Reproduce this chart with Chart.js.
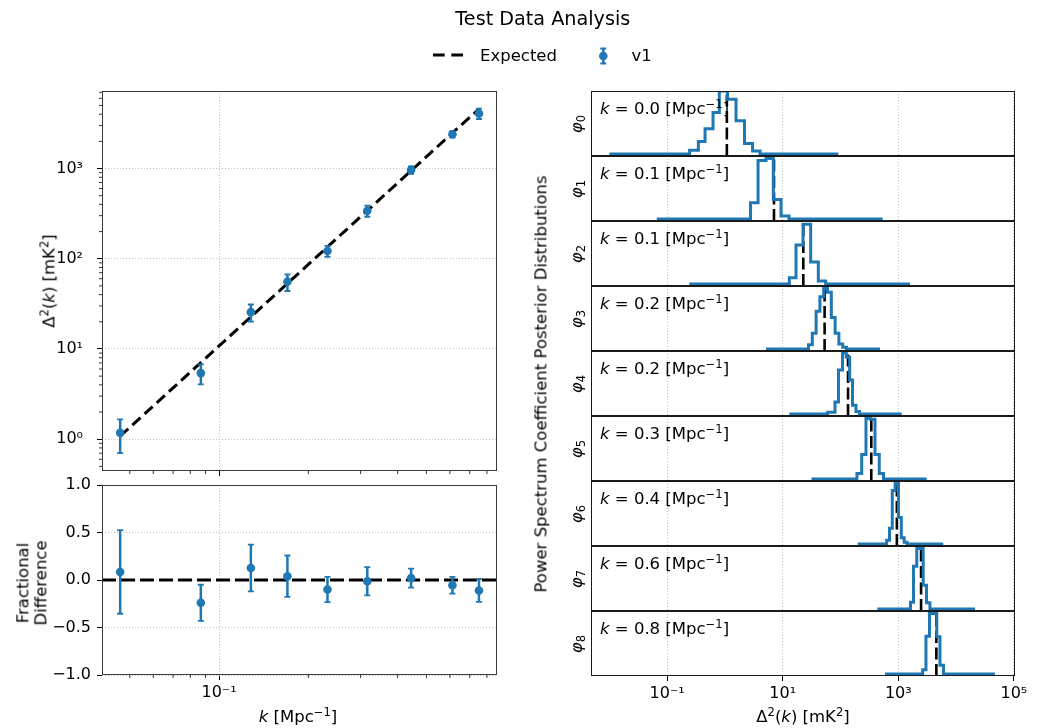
<!DOCTYPE html>
<html><head><meta charset="utf-8">
<script src="https://cdn.jsdelivr.net/npm/chart.js@4/dist/chart.umd.min.js"></script>
<style>
html,body{margin:0;padding:0;background:#fff;}
#wrap{position:relative;width:1041px;height:728px;overflow:hidden;font-family:"DejaVu Sans",sans-serif;color:#000;}
#wrap canvas{position:absolute;left:0;top:0;}
.t{position:absolute;white-space:nowrap;line-height:1.164;font-family:"DejaVu Sans",sans-serif;color:#000;}
.sp{font-size:0.7em;position:relative;top:-0.5em;line-height:0;}
.sb{font-size:0.7em;position:relative;top:0.3em;line-height:0;}
</style></head><body><div id="wrap"></div>
<script>
// ---------------- data ----------------
const kValues       = [0.0464, 0.0868, 0.128, 0.170, 0.232, 0.316, 0.444, 0.612, 0.752];
const expectedPower = [1.08, 7.06, 22.7, 53.1, 135, 341, 945, 2480, 4560];
const measuredPower = [1.18, 5.40, 25.6, 55.5, 122, 340, 965, 2400, 4080];
const measuredError = [0.48, 1.35, 5.5, 11.6, 17, 48, 90, 200, 540];
const fracDiff      = [0.085, -0.24, 0.127, 0.04, -0.10, -0.013, 0.02, -0.056, -0.11];
const fracError     = [0.44, 0.19, 0.246, 0.218, 0.133, 0.148, 0.10, 0.088, 0.121];

const leftXLimits   = [0.0403, 0.865];
const powerYLimits  = [0.444, 7230];
const fracYLimits   = [-1, 1];
const histXLimits   = [0.00481, 104700];

const powerYMajor = [1, 10, 100, 1000];
const powerYMinor = [0.5,0.6,0.7,0.8,0.9,2,3,4,5,6,7,8,9,20,30,40,50,60,70,80,90,200,300,400,500,600,700,800,900,2000,3000,4000,5000,6000,7000];
const kMajor = [0.1];
const kMinor = [0.05,0.06,0.07,0.08,0.09,0.2,0.3,0.4,0.5,0.6,0.7,0.8];
const fracTicks = [-1, -0.5, 0, 0.5, 1];
const histXMajor = [0.1, 10, 1000, 100000];

// histogram outlines: baseline range, bin edges (log10 of Δ²) and relative bin heights
const histRangeLog10 = [
  [-2.00, 1.962], [-1.180, 2.730], [-0.616, 3.202], [0.711, 2.683], [1.114, 3.059],
  [1.498, 3.491], [2.298, 3.779], [2.637, 4.327], [2.770, 4.673]
];
const histEdgesLog10 = [
  [-0.612,-0.460,-0.344,-0.206,-0.097,0.045,0.192,0.339,0.478,0.607],
  [0.443,0.573,0.711,0.837,0.971,1.109],
  [1.114,1.230,1.351,1.484,1.616,1.744],
  [1.446,1.512,1.578,1.644,1.709,1.775,1.841,1.907,1.972,2.038,2.104],
  [1.779,1.905,1.965,2.035,2.100,2.159,2.208,2.268,2.329],
  [2.285,2.367,2.441,2.519,2.597,2.671,2.744],
  [2.799,2.848,2.896,2.946,3.003,3.052,3.102,3.151],
  [3.211,3.263,3.320,3.375,3.431,3.488,3.548],
  [3.422,3.479,3.540,3.604,3.666,3.721,3.782]
];
const histHeights = [
  [0.06,0.2,0.4,0.66,1.0,0.87,0.53,0.17,0.05],
  [0.26,0.93,0.96,0.31,0.05],
  [0.1,0.62,0.95,0.35,0.05],
  [0.07,0.25,0.6,0.83,0.97,0.9,0.5,0.25,0.08,0.03],
  [0.03,0.19,0.7,0.97,0.9,0.54,0.14,0.04],
  [0.09,0.39,0.96,0.95,0.39,0.09],
  [0.06,0.25,0.85,0.98,0.42,0.1,0.03],
  [0.11,0.68,0.97,0.96,0.38,0.1],
  [0.07,0.6,0.96,0.96,0.59,0.14]
];
const histYLimits = [-0.03, 1.0];

// ---------------- setup ----------------
const W = 1041, H = 728;
const BLUE = '#1f77b4';
const FONT = '"DejaVu Sans", sans-serif';
const wrap = document.getElementById('wrap');
Chart.defaults.font.family = FONT;
Chart.defaults.font.size = 16;
Chart.defaults.color = '#000';

const SUP = {'-':'⁻','0':'⁰','1':'¹','2':'²','3':'³','4':'⁴','5':'⁵','6':'⁶','7':'⁷','8':'⁸','9':'⁹'};
function pow10Label(v){
  const e = Math.round(Math.log10(v));
  return '10' + String(e).split('').map(c => SUP[c]).join('');
}
function makeCanvas(){
  const c = document.createElement('canvas');
  c.width = W; c.height = H;
  wrap.appendChild(c);
  return c;
}
// axis sizes reserved (so tick labels are not clipped), padding fills the rest
const Y_AXIS_W = 100, X_AXIS_H = 45;
function pad(box, yW, xH){ return {left: box.l - yW, top: box.t, right: W - box.r, bottom: H - box.b - xH}; }

const gridBase = {color:'#b0b0b0', lineWidth:0.8, drawTicks:true, tickLength:5, tickColor:'#000', tickWidth:1};
const borderBase = {display:false, dash:[1,2]};

function framePlugin(color){
  return {id:'frame', afterDraw(chart){
    const a = chart.chartArea, ctx = chart.ctx;
    ctx.save();
    ctx.strokeStyle = color || '#1a1a1a'; ctx.lineWidth = 1;
    const l = Math.round(a.left)+0.5, t = Math.round(a.top)+0.5, r = Math.round(a.right)-0.5, b = Math.round(a.bottom)-0.5;
    ctx.strokeRect(l, t, r - l, b - t);
    ctx.restore();
  }};
}
function minorPlugin(xMinor, yMinor){
  return {id:'minorTicks', afterDraw(chart){
    const a = chart.chartArea, ctx = chart.ctx;
    ctx.save(); ctx.strokeStyle = '#000'; ctx.lineWidth = 0.8;
    ctx.beginPath();
    (xMinor||[]).forEach(v => {
      const px = chart.scales.x.getPixelForValue(v);
      ctx.moveTo(px, a.bottom); ctx.lineTo(px, a.bottom + 3);
    });
    (yMinor||[]).forEach(v => {
      const py = chart.scales.y.getPixelForValue(v);
      ctx.moveTo(a.left, py); ctx.lineTo(a.left - 3, py);
    });
    ctx.stroke(); ctx.restore();
  }};
}
function errorBarPlugin(xs, ys, errs, afterIndex){
  return {id:'errorBars', afterDatasetDraw(chart, args){
    if (args.index !== afterIndex) return;
    const sx = chart.scales.x, sy = chart.scales.y, ctx = chart.ctx;
    ctx.save(); ctx.strokeStyle = BLUE; ctx.lineCap = 'butt';
    xs.forEach((xv, i) => {
      const px = sx.getPixelForValue(xv);
      const y1 = sy.getPixelForValue(ys[i] - errs[i]);
      const y2 = sy.getPixelForValue(ys[i] + errs[i]);
      ctx.lineWidth = 2.5;
      ctx.beginPath(); ctx.moveTo(px, y1); ctx.lineTo(px, y2); ctx.stroke();
      ctx.lineWidth = 1.8;
      ctx.beginPath();
      ctx.moveTo(px - 3, y1); ctx.lineTo(px + 3, y1);
      ctx.moveTo(px - 3, y2); ctx.lineTo(px + 3, y2);
      ctx.stroke();
    });
    ctx.restore();
  }};
}
const legendPlugin = {id:'legendDraw', afterDraw(chart){
  const ctx = chart.ctx;
  ctx.save();
  ctx.strokeStyle = '#000'; ctx.lineWidth = 3; ctx.setLineDash([11.7, 6.6]);
  ctx.beginPath(); ctx.moveTo(433, 55); ctx.lineTo(463.5, 55); ctx.stroke();
  ctx.setLineDash([]);
  ctx.strokeStyle = BLUE; ctx.lineWidth = 2.5;
  ctx.beginPath(); ctx.moveTo(603.3, 48.5); ctx.lineTo(603.3, 63.5); ctx.stroke();
  ctx.lineWidth = 1.8;
  ctx.beginPath(); ctx.moveTo(600.3, 48.5); ctx.lineTo(606.3, 48.5); ctx.moveTo(600.3, 63.5); ctx.lineTo(606.3, 63.5); ctx.stroke();
  ctx.fillStyle = BLUE; ctx.beginPath(); ctx.arc(603.3, 56, 4.3, 0, Math.PI*2); ctx.fill();
  ctx.restore();
}};

// ---------------- left top: power spectrum ----------------
const ltBox = {l:102, t:91, r:497, b:471};
new Chart(makeCanvas(), {
  type:'line',
  data:{datasets:[
    {label:'v1', data:kValues.map((k,i)=>({x:k, y:measuredPower[i]})), showLine:false,
     pointRadius:4.3, pointBorderWidth:0, backgroundColor:BLUE, borderColor:BLUE},
    {label:'Expected', data:kValues.map((k,i)=>({x:k, y:expectedPower[i]})), borderColor:'#000',
     borderWidth:3, borderDash:[11,5.5], pointRadius:0, tension:0, fill:false}
  ]},
  options:{
    responsive:false, animation:false, events:[],
    layout:{padding:pad(ltBox, Y_AXIS_W, 0)},
    plugins:{legend:{display:false}, tooltip:{enabled:false}},
    scales:{
      x:{type:'logarithmic', min:leftXLimits[0], max:leftXLimits[1],
         afterFit(s){ s.height = 0; }, afterBuildTicks(s){ s.ticks = kMajor.map(v=>({value:v})); },
         ticks:{display:false}, grid:{...gridBase}, border:{...borderBase}},
      y:{type:'logarithmic', min:powerYLimits[0], max:powerYLimits[1],
         afterFit(s){ s.width = Y_AXIS_W; }, afterBuildTicks(s){ s.ticks = powerYMajor.map(v=>({value:v})); },
         ticks:{callback:(v)=>pow10Label(v), padding:14, autoSkip:false}, grid:{...gridBase}, border:{...borderBase}}
    }
  },
  plugins:[errorBarPlugin(kValues, measuredPower, measuredError, 1), minorPlugin(kMinor, powerYMinor), framePlugin('#3a3a3a'), legendPlugin]
});

// ---------------- left bottom: fractional difference ----------------
const lbBox = {l:102, t:485, r:497, b:675};
new Chart(makeCanvas(), {
  type:'line',
  data:{datasets:[
    {label:'v1', data:kValues.map((k,i)=>({x:k, y:fracDiff[i]})), showLine:false,
     pointRadius:4.3, pointBorderWidth:0, backgroundColor:BLUE, borderColor:BLUE},
    {label:'Expected', data:leftXLimits.map(x=>({x:x, y:0})), borderColor:'#000',
     borderWidth:3, borderDash:[14,5], pointRadius:0, tension:0, fill:false}
  ]},
  options:{
    responsive:false, animation:false, events:[],
    layout:{padding:pad(lbBox, Y_AXIS_W, X_AXIS_H)},
    plugins:{legend:{display:false}, tooltip:{enabled:false}},
    scales:{
      x:{type:'logarithmic', min:leftXLimits[0], max:leftXLimits[1],
         afterFit(s){ s.height = X_AXIS_H; }, afterBuildTicks(s){ s.ticks = kMajor.map(v=>({value:v})); },
         ticks:{callback:(v)=>pow10Label(v), padding:3, maxRotation:0, autoSkip:false}, grid:{...gridBase}, border:{...borderBase}},
      y:{type:'linear', min:fracYLimits[0], max:fracYLimits[1],
         afterFit(s){ s.width = Y_AXIS_W; }, afterBuildTicks(s){ s.ticks = fracTicks.map(v=>({value:v})); },
         ticks:{callback:(v)=>(v<0?'−':'')+Math.abs(v).toFixed(1), padding:6, autoSkip:false}, grid:{...gridBase}, border:{...borderBase}}
    }
  },
  plugins:[errorBarPlugin(kValues, fracDiff, fracError, 1), minorPlugin(kMinor, []), framePlugin('#3a3a3a')]
});

// ---------------- right: posterior histograms ----------------
const rTop = 91, rH = 65, rLeft = 591, rRight = 1015;
histEdgesLog10.forEach((edges, p) => {
  const box = {l:rLeft, t:rTop + p*rH, r:rRight, b:rTop + (p+1)*rH};
  const last = p === histEdgesLog10.length - 1;
  const xH = last ? X_AXIS_H : 0;
  const pts = [{x:Math.pow(10, histRangeLog10[p][0]), y:0}];
  histHeights[p].forEach((h, i) => pts.push({x:Math.pow(10, edges[i]), y:h}));
  pts.push({x:Math.pow(10, edges[edges.length-1]), y:0});
  pts.push({x:Math.pow(10, histRangeLog10[p][1]), y:0});
  new Chart(makeCanvas(), {
    type:'line',
    data:{datasets:[
      {label:'posterior', data:pts, stepped:'before', borderColor:BLUE, borderWidth:3,
       pointRadius:0, fill:false, borderJoinStyle:'miter'},
      {label:'expected', data:histYLimits.map(y=>({x:expectedPower[p], y:y})), borderColor:'#000',
       borderWidth:2.6, borderDash:[12,4.5], pointRadius:0, fill:false}
    ]},
    options:{
      responsive:false, animation:false, events:[],
      layout:{padding:pad(box, 0, xH)},
      plugins:{legend:{display:false}, tooltip:{enabled:false}},
      scales:{
        x:{type:'logarithmic', min:histXLimits[0], max:histXLimits[1],
           afterFit(s){ s.height = xH; }, afterBuildTicks(s){ s.ticks = histXMajor.map(v=>({value:v})); },
           ticks:{display:last, callback:(v)=>pow10Label(v), padding:3, maxRotation:0, autoSkip:false},
           grid:{...gridBase, drawTicks:last}, border:{...borderBase}},
        y:{type:'linear', display:false, min:histYLimits[0], max:histYLimits[1]}
      }
    },
    plugins:[framePlugin('#1a1a1a')]
  });
});

// ---------------- text ----------------
function addText(html, cx, cy, o){
  o = o || {};
  const d = document.createElement('div');
  d.className = 't';
  d.innerHTML = html;
  d.style.left = cx + 'px'; d.style.top = cy + 'px';
  d.style.fontSize = (o.size || 16) + 'px';
  if (o.lh) d.style.lineHeight = o.lh;
  if (o.ta) d.style.textAlign = o.ta;
  const ax = o.align === 'left' ? '0' : (o.align === 'right' ? '-100%' : '-50%');
  d.style.transform = 'translate(' + ax + ',-50%)' + (o.rot ? ' rotate(-90deg)' : '');
  wrap.appendChild(d);
  return d;
}
addText('Test Data Analysis', 542.8, 18.5, {size:19.2});
addText('Expected', 480, 55.5, {align:'left', size:16.5});
addText('v1', 631.5, 55.5, {align:'left', size:16.5});
addText('Δ<span class="sp">2</span>(<i>k</i>) [mK<span class="sp">2</span>]', 49, 281, {rot:true, size:16.5});
addText('Fractional<br>Difference', 32, 583, {rot:true, size:16.5, lh:'1.07', ta:'center'});
addText('<i>k</i> [Mpc<span class="sp">−1</span>]', 298, 717, {size:16.5});
addText('Δ<span class="sp">2</span>(<i>k</i>) [mK<span class="sp">2</span>]', 803, 717, {size:16.5});
addText('Power Spectrum Coefficient Posterior Distributions', 541, 384, {rot:true, size:16.5});
kValues.forEach((k, p) => {
  const top = rTop + p*rH;
  addText('<i>φ</i><span class="sb">' + p + '</span>', 577, top + rH/2, {rot:true, size:16.5});
  addText('<i>k</i> = ' + k.toFixed(1) + ' [Mpc<span class="sp">−1</span>]', 600, top + 17.5, {align:'left', size:16.5});
});
</script></body></html>
